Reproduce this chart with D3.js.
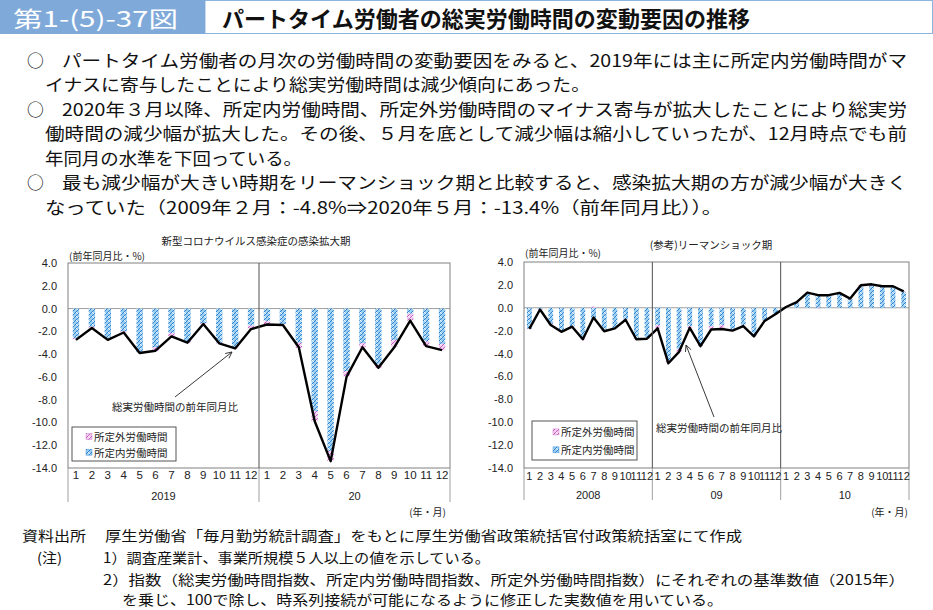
<!DOCTYPE html>
<html><head><meta charset="utf-8">
<script src="https://cdn.jsdelivr.net/npm/d3@7"></script>
<style>
html,body{margin:0;padding:0;background:#fff;}
svg{display:block;font-family:"Noto Sans CJK JP","Noto Sans",sans-serif;}
</style></head>
<body><svg id="c" width="933" height="610"></svg>
<script>
// ---------------- DATA ----------------
const monthLabels = ["1","2","3","4","5","6","7","8","9","10","11","12"];
const yTicks = [4,2,0,-2,-4,-6,-8,-10,-12,-14];

// 新型コロナウイルス感染症の感染拡大期 (2019.1 - 2020.12)
const covidYears = ["2019","20"];
const covidScheduled = [-2.6,-1.6,-2.6,-2.0,-3.8,-3.4,-2.15,-2.9,-1.3,-3.0,-3.4,-1.5,
                        -1.1,-1.35,-3.0,-9.0,-12.5,-5.5,-3.05,-4.9,-2.75,-0.45,-2.9,-3.1];
const covidOvertime  = [-0.1,-0.1,-0.1,-0.1,-0.1,-0.3,-0.3,-0.1,-0.05,-0.05,-0.1,-0.3,
                        -0.3,-0.05,-0.45,-0.9,-0.9,-0.45,-0.35,-0.3,-0.6,-0.6,-0.4,-0.55];
const covidTotal     = [-2.75,-1.7,-2.75,-2.1,-3.9,-3.7,-2.45,-3.0,-1.35,-3.05,-3.5,-1.8,
                        -1.4,-1.45,-3.4,-9.9,-13.4,-6.0,-3.4,-5.2,-3.4,-1.05,-3.3,-3.65];

// (参考)リーマンショック期 (2008.1 - 2010.12)
const lehmanYears = ["2008","09","10"];
const lehmanScheduled = [-1.8,-0.1,-1.4,-2.0,-1.6,-2.6,-0.95,-2.0,-1.8,-1.0,-2.7,-2.6,
                         -1.5,-4.6,-3.6,-1.6,-3.3,-1.6,-1.5,-1.9,-1.5,-2.4,-1.1,-0.55,
                          0.05,0.45,1.25,1.15,1.05,1.25,0.75,1.85,1.9,1.8,1.8,1.4];
const lehmanOvertime  = [-0.05,-0.05,-0.1,-0.1,-0.05,-0.15,0.1,-0.05,-0.05,-0.05,-0.05,-0.1,
                         -0.3,-0.25,-0.25,-0.15,-0.05,-0.3,-0.35,-0.1,-0.1,-0.1,-0.05,-0.02,
                          0.02,0.05,0.08,-0.05,0.05,0.05,0.05,0.12,0.15,0.08,0.1,0.04];
const lehmanTotal     = [-1.85,-0.15,-1.5,-2.1,-1.65,-2.75,-0.85,-2.05,-1.8,-1.05,-2.75,-2.7,
                         -1.8,-4.85,-3.85,-1.75,-3.35,-1.9,-1.85,-2.0,-1.6,-2.5,-1.15,-0.57,
                          0.07,0.5,1.33,1.1,1.1,1.3,0.8,1.97,2.05,1.88,1.88,1.44];

const legendLabels = ["所定外労働時間","所定内労働時間"];
const annotationText = "総実労働時間の前年同月比";

// ---------------- DRAW ----------------
const svg = d3.select("#c");
const defs = svg.append("defs");

function makePattern(id, bg, fg, light){
  const p = defs.append("pattern").attr("id",id).attr("patternUnits","userSpaceOnUse")
    .attr("width",4).attr("height",4);
  p.append("rect").attr("width",4).attr("height",4).attr("fill",bg);
  p.append("path").attr("d","M0,4 L4,0").attr("stroke",fg).attr("stroke-width",1);
  p.append("path").attr("d","M0,0 L2,2").attr("stroke",light).attr("stroke-width",0.8);
}
makePattern("pBlue","#9dcff0","#2c80d2","#ffffff");
makePattern("pPink","#f3ccf0","#c460c4","#ffffff");

// Header
svg.append("rect").attr("x",205).attr("y",0.5).attr("width",727.5).attr("height",33)
  .attr("fill","#fff").attr("stroke","#8db4df").attr("stroke-width",1);
svg.append("rect").attr("x",0).attr("y",0).attr("width",205).attr("height",34).attr("fill","#7ea9d9");
svg.append("text").attr("x",13).attr("y",17).attr("dominant-baseline","central")
  .attr("fill","#fff").attr("font-size",22).attr("textLength",165).attr("lengthAdjust","spacingAndGlyphs")
  .text("第1-(5)-37図");
svg.append("text").attr("x",222).attr("y",17).attr("dominant-baseline","central")
  .attr("fill","#111").attr("font-size",22).attr("font-weight","bold")
  .attr("textLength",528).attr("lengthAdjust","spacingAndGlyphs")
  .text("パートタイム労働者の総実労働時間の変動要因の推移");

// Body text
const bodyLines = [
  {b:true, x:62, y:59.5, end:907, t:"パートタイム労働者の月次の労働時間の変動要因をみると、2019年には主に所定内労働時間がマ"},
  {b:false,x:45, y:84, end:590, t:"イナスに寄与したことにより総実労働時間は減少傾向にあった。"},
  {b:true, x:62, y:108.5,end:907, t:"2020年３月以降、所定内労働時間、所定外労働時間のマイナス寄与が拡大したことにより総実労"},
  {b:false,x:45, y:133,end:907, t:"働時間の減少幅が拡大した。その後、５月を底として減少幅は縮小していったが、12月時点でも前"},
  {b:false,x:45, y:157.5,end:302, t:"年同月の水準を下回っている。"},
  {b:true, x:62, y:182,end:907, t:"最も減少幅が大きい時期をリーマンショック期と比較すると、感染拡大期の方が減少幅が大きく"},
  {b:false,x:45, y:206.5,end:722, t:"なっていた（2009年２月：-4.8%⇒2020年５月：-13.4%（前年同月比））。"}
];
bodyLines.forEach(l=>{
  if(l.b) svg.append("text").attr("x",27).attr("y",l.y).attr("dominant-baseline","central")
    .attr("font-size",16.8).attr("fill","#111").text("○");
  svg.append("text").attr("x",l.x).attr("y",l.y).attr("dominant-baseline","central")
    .attr("font-size",16.8).attr("fill","#111")
    .attr("textLength",l.end-l.x).attr("lengthAdjust","spacingAndGlyphs").text(l.t);
});

// Notes
const notes = [
  {x:22, y:535, end:86, t:"資料出所"},
  {x:105,y:535, end:742, t:"厚生労働省「毎月勤労統計調査」をもとに厚生労働省政策統括官付政策統括室にて作成"},
  {x:37, y:557, end:62, t:"(注)"},
  {x:103,y:557, end:490, t:"1）調査産業計、事業所規模５人以上の値を示している。"},
  {x:103,y:579, end:905, t:"2）指数（総実労働時間指数、所定内労働時間指数、所定外労働時間指数）にそれぞれの基準数値（2015年）"},
  {x:122,y:599, end:723, t:"を乗じ、100で除し、時系列接続が可能になるように修正した実数値を用いている。"}
];
notes.forEach(n=>{
  svg.append("text").attr("x",n.x).attr("y",n.y).attr("dominant-baseline","central")
    .attr("font-size",14).attr("fill","#111")
    .attr("textLength",n.end-n.x).attr("lengthAdjust","spacingAndGlyphs").text(n.t);
});

function drawChart(cfg){
  const g = svg.append("g");
  const n = cfg.total.length;
  const x = d3.scaleBand().domain(d3.range(n)).range([cfg.left,cfg.right]).paddingInner(cfg.pad).paddingOuter(cfg.pad/2);
  const y = d3.scaleLinear().domain([-14,4]).range([cfg.bottom,cfg.top]);

  // title
  g.append("text").attr("x",cfg.titleX).attr("y",cfg.titleY).attr("text-anchor","middle")
    .attr("dominant-baseline","central").attr("font-size",10.5).attr("fill","#222").text(cfg.title);
  g.append("text").attr("x",cfg.left+1).attr("y",cfg.unitY).attr("dominant-baseline","central")
    .attr("font-size",10).attr("fill","#222").text("(前年同月比・%)");

  // y axis labels
  const ya = d3.axisLeft(y).tickValues(yTicks).tickFormat(d3.format(".1f")).tickSize(0).tickPadding(0);
  const yg = g.append("g").attr("transform",`translate(${cfg.yLabelRight},0)`).call(ya);
  yg.select(".domain").remove();
  yg.selectAll("text").attr("font-family","'Liberation Sans',Arial,sans-serif").attr("font-size",11).attr("fill","#222")
    .text(d=>d3.format(".1f")(d).replace("−","-"));

  // zero line
  g.append("line").attr("x1",cfg.left).attr("x2",cfg.right).attr("y1",y(0)).attr("y2",y(0))
    .attr("stroke","#a0a0a0").attr("stroke-width",1);

  // bars
  const data = cfg.total.map((t,i)=>{
    const s = cfg.sched[i], o = cfg.over[i];
    const oStart = (Math.sign(o)===Math.sign(s)) ? s : 0;
    return {i,s,o,oStart};
  });
  g.selectAll(".bs").data(data).join("rect")
    .attr("x",d=>x(d.i)).attr("width",x.bandwidth())
    .attr("y",d=>y(Math.max(0,d.s))).attr("height",d=>Math.abs(y(d.s)-y(0)))
    .attr("fill","url(#pBlue)");
  g.selectAll(".bo").data(data).join("rect")
    .attr("x",d=>x(d.i)).attr("width",x.bandwidth())
    .attr("y",d=>y(Math.max(d.oStart,d.oStart+d.o))).attr("height",d=>Math.abs(y(d.oStart+d.o)-y(d.oStart)))
    .attr("fill","url(#pPink)");

  // line
  const line = d3.line().x((d,i)=>x(i)+x.bandwidth()/2).y(d=>y(d));
  g.append("path").datum(cfg.total).attr("d",line).attr("fill","none")
    .attr("stroke","#000").attr("stroke-width",2.4).attr("stroke-linejoin","round");

  // frame
  g.append("rect").attr("x",cfg.left).attr("y",cfg.top).attr("width",cfg.right-cfg.left).attr("height",cfg.bottom-cfg.top)
    .attr("fill","none").attr("stroke","#808080").attr("stroke-width",1);

  // year dividers
  const nYears = cfg.years.length;
  for(let k=0;k<=nYears;k++){
    const xx = (k===0)?cfg.left:(k===nYears?cfg.right:x(k*12)-(x.step()-x.bandwidth())/2);
    if(k>0 && k<nYears){
      g.append("line").attr("x1",xx).attr("x2",xx).attr("y1",cfg.top).attr("y2",cfg.bottom)
        .attr("stroke","#505050").attr("stroke-width",1);
    }
    g.append("line").attr("x1",xx).attr("x2",xx).attr("y1",cfg.bottom).attr("y2",cfg.tickBottom)
      .attr("stroke","#a0a0a0").attr("stroke-width",1);
  }
  // month labels
  g.selectAll(".ml").data(d3.range(n)).join("text")
    .attr("x",i=>x(i)+x.bandwidth()/2).attr("y",cfg.monthY).attr("text-anchor","middle")
    .attr("dominant-baseline","central").attr("font-family","'Liberation Sans',Arial,sans-serif")
    .attr("font-size",cfg.monthFont).attr("fill","#222")
    .text(i=>monthLabels[i%12]);
  // year labels
  cfg.years.forEach((yr,k)=>{
    const cx = (x(k*12)+x(k*12+11)+x.bandwidth())/2;
    g.append("text").attr("x",cx).attr("y",cfg.yearY).attr("text-anchor","middle")
      .attr("dominant-baseline","central").attr("font-family","'Liberation Sans',Arial,sans-serif")
      .attr("font-size",11).attr("fill","#222").text(yr);
  });
  g.append("text").attr("x",cfg.ymRight).attr("y",cfg.ymY).attr("text-anchor","end")
    .attr("dominant-baseline","central").attr("font-size",10).attr("fill","#222").text("(年・月)");

  // legend
  const L = cfg.legend;
  g.append("rect").attr("x",L.x).attr("y",L.y).attr("width",L.w).attr("height",L.h)
    .attr("fill","#fff").attr("stroke","#555").attr("stroke-width",1);
  legendLabels.forEach((lab,k)=>{
    const yy = L.y + L.h*(k===0?0.28:0.74);
    g.append("rect").attr("x",L.mx).attr("y",yy-3).attr("width",6).attr("height",6)
      .attr("fill",k===0?"url(#pPink)":"url(#pBlue)").attr("stroke",k===0?"#c460c4":"#2c80d2").attr("stroke-width",0.4);
    g.append("text").attr("x",L.mx+8).attr("y",yy).attr("dominant-baseline","central")
      .attr("font-size",10.5).attr("fill","#222").text(lab);
  });

  // annotation
  const A = cfg.ann;
  g.append("text").attr("x",A.tx).attr("y",A.ty).attr("text-anchor","middle").attr("dominant-baseline","central")
    .attr("font-size",10.5).attr("fill","#222").text(annotationText);
  g.append("line").attr("x1",A.x1).attr("y1",A.y1).attr("x2",A.x2).attr("y2",A.y2)
    .attr("stroke","#222").attr("stroke-width",0.9);
  const ang = Math.atan2(A.y2-A.y1,A.x2-A.x1);
  const ah = 7, aw = 0.45;
  const p1 = [A.x2-ah*Math.cos(ang-aw), A.y2-ah*Math.sin(ang-aw)];
  const p2 = [A.x2-ah*Math.cos(ang+aw), A.y2-ah*Math.sin(ang+aw)];
  g.append("path").attr("d",`M${p1[0]},${p1[1]} L${A.x2},${A.y2} L${p2[0]},${p2[1]}`)
    .attr("fill","none").attr("stroke","#222").attr("stroke-width",0.9);
}

drawChart({
  title:"新型コロナウイルス感染症の感染拡大期", titleX:256, titleY:240, unitY:255,
  left:68, right:450, top:263, bottom:468, pad:0.6, yLabelRight:57,
  sched:covidScheduled, over:covidOvertime, total:covidTotal, years:covidYears,
  monthY:475, monthFont:11.5, yearY:496, tickBottom:502, ymRight:446, ymY:511,
  legend:{x:72,y:427,w:104,h:34,mx:86},
  ann:{tx:175,ty:406,x1:175,y1:397,x2:232,y2:352}
});
drawChart({
  title:"(参考)リーマンショック期", titleX:711, titleY:244, unitY:252,
  left:524, right:909, top:262, bottom:468, pad:0.55, yLabelRight:513,
  sched:lehmanScheduled, over:lehmanOvertime, total:lehmanTotal, years:lehmanYears,
  monthY:476, monthFont:11, yearY:495, tickBottom:500, ymRight:908, ymY:511,
  legend:{x:532,y:421,w:105,h:39,mx:553},
  ann:{tx:719,ty:427,x1:714,y1:417,x2:686,y2:345}
});
</script></body></html>
